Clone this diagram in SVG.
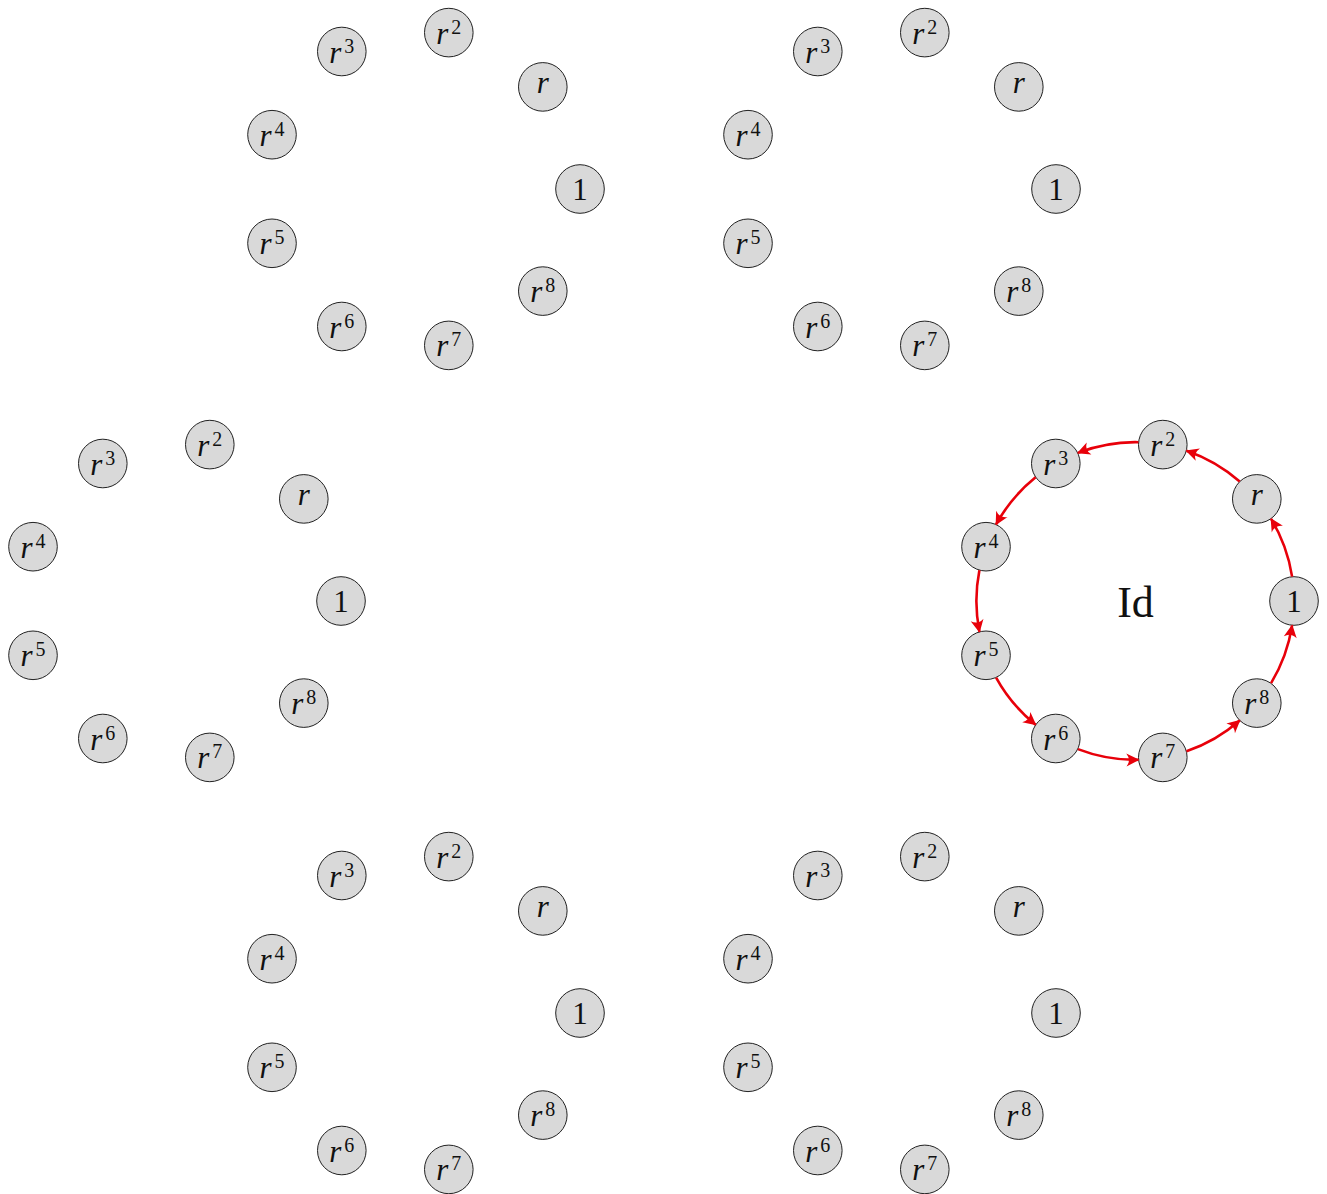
<svg xmlns="http://www.w3.org/2000/svg" width="1327" height="1194" viewBox="0 0 1327 1194">
<style>
.n circle{fill:#d9d9d9;stroke:#222;stroke-width:1}
text{font-family:"Liberation Serif","Times New Roman",serif;fill:#111;text-anchor:middle}
.m{font-size:31px;font-style:italic}
.s{font-size:20px;font-style:normal}
.one{font-size:31px}
.id{font-size:44px}
.e{fill:none;stroke:#e8000a;stroke-width:2.6}
</style>
<defs>
<marker id="ah" viewBox="-14 -8 16 16" refX="0" refY="0" markerWidth="16" markerHeight="16" markerUnits="userSpaceOnUse" orient="auto">
<path d="M1,0 L-12,-6.5 Q-7,0 -12,6.5 Z" fill="#e8000a"/>
</marker>
<g id="ring">
<g class="n"><circle cx="158.8" cy="0" r="24.3"/><text class="one" x="158.8" y="11">1</text></g>
<g class="n"><circle cx="121.6" cy="-102.1" r="24.3"/><text class="m" x="121.6" y="-96">r</text></g>
<g class="n"><circle cx="27.6" cy="-156.4" r="24.3"/><text class="m" x="27.6" y="-145">r<tspan class="s" dx="3" dy="-10">2</tspan></text></g>
<g class="n"><circle cx="-79.4" cy="-137.5" r="24.3"/><text class="m" x="-79.4" y="-126.5">r<tspan class="s" dx="3" dy="-10">3</tspan></text></g>
<g class="n"><circle cx="-149.2" cy="-54.3" r="24.3"/><text class="m" x="-149.2" y="-43.3">r<tspan class="s" dx="3" dy="-10">4</tspan></text></g>
<g class="n"><circle cx="-149.2" cy="54.3" r="24.3"/><text class="m" x="-149.2" y="65.3">r<tspan class="s" dx="3" dy="-10">5</tspan></text></g>
<g class="n"><circle cx="-79.4" cy="137.5" r="24.3"/><text class="m" x="-79.4" y="148.5">r<tspan class="s" dx="3" dy="-10">6</tspan></text></g>
<g class="n"><circle cx="27.6" cy="156.4" r="24.3"/><text class="m" x="27.6" y="167.4">r<tspan class="s" dx="3" dy="-10">7</tspan></text></g>
<g class="n"><circle cx="121.6" cy="102.1" r="24.3"/><text class="m" x="121.6" y="113.1">r<tspan class="s" dx="3" dy="-10">8</tspan></text></g>
</g>
</defs>
<rect width="1327" height="1194" fill="#fff"/>
<g id="ring-top-left" transform="translate(421.2,189)"><use href="#ring"/></g>
<g id="ring-top-right" transform="translate(897.2,189)"><use href="#ring"/></g>
<g id="ring-mid-left" transform="translate(182.2,601)"><use href="#ring"/></g>
<g id="ring-mid-right" transform="translate(1135.2,601)"><use href="#ring"/></g>
<g id="ring-bottom-left" transform="translate(421.2,1013)"><use href="#ring"/></g>
<g id="ring-bottom-right" transform="translate(897.2,1013)"><use href="#ring"/></g>
<g id="label-id"><text class="id" x="1135.5" y="617">Id</text></g>
<g id="connectors">
<path class="e" d="M1292.1,576.6 A158.8,158.8 0 0 0 1271.1,518.9" marker-end="url(#ah)"/>
<path class="e" d="M1239.7,481.5 A158.8,158.8 0 0 0 1186.5,450.7" marker-end="url(#ah)"/>
<path class="e" d="M1138.4,442.2 A158.8,158.8 0 0 0 1077.9,452.9" marker-end="url(#ah)"/>
<path class="e" d="M1035.6,477.3 A158.8,158.8 0 0 0 996.1,524.4" marker-end="url(#ah)"/>
<path class="e" d="M979.4,570.3 A158.8,158.8 0 0 0 979.4,631.7" marker-end="url(#ah)"/>
<path class="e" d="M996.1,677.6 A158.8,158.8 0 0 0 1035.6,724.7" marker-end="url(#ah)"/>
<path class="e" d="M1077.9,749.1 A158.8,158.8 0 0 0 1138.4,759.8" marker-end="url(#ah)"/>
<path class="e" d="M1186.5,751.3 A158.8,158.8 0 0 0 1239.7,720.5" marker-end="url(#ah)"/>
<path class="e" d="M1271.1,683.1 A158.8,158.8 0 0 0 1292.1,625.4" marker-end="url(#ah)"/>
</g>
</svg>
